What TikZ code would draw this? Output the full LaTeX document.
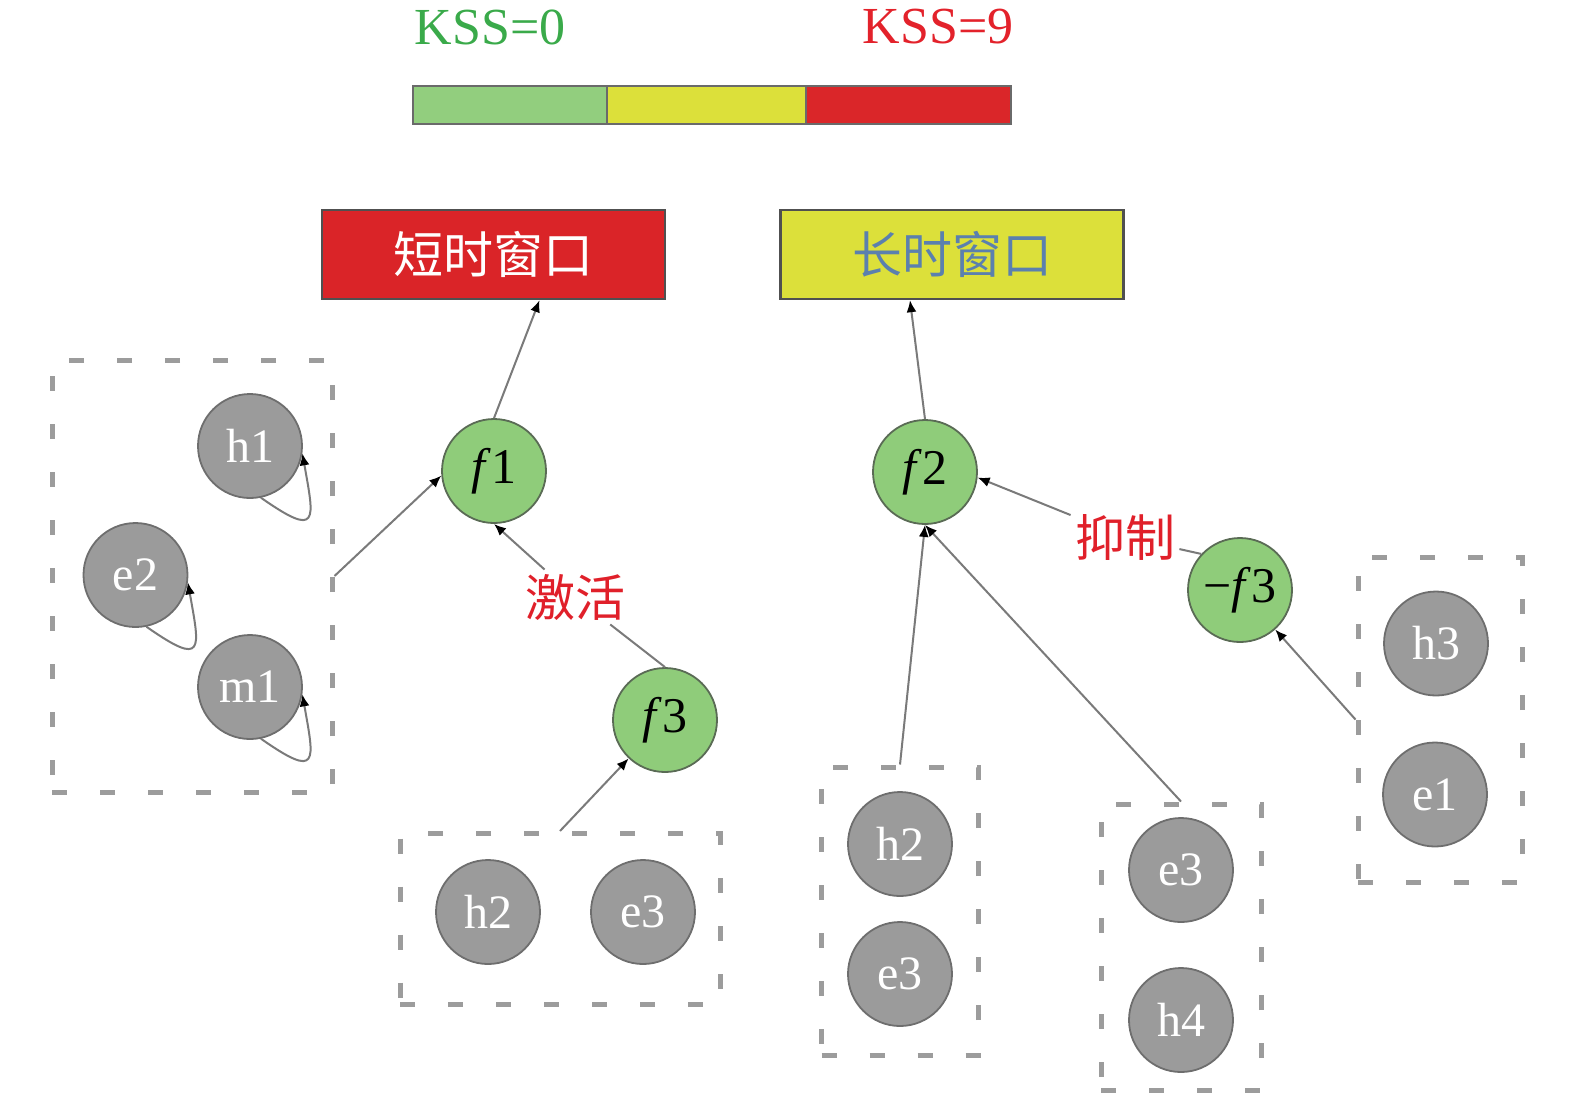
\documentclass[tikz,border=0pt]{standalone}
\usepackage{fontspec}
\setmainfont{Liberation Serif}
\newfontfamily\cjk{Noto Sans CJK SC}
\usetikzlibrary{arrows.meta}
\definecolor{bargreen}{HTML}{92CE7E}
\definecolor{baryellow}{HTML}{DCE03A}
\definecolor{barred}{HTML}{DA2629}
\definecolor{barborder}{HTML}{6A6A6A}
\definecolor{kssgreen}{HTML}{3AAA4A}
\definecolor{kssred}{HTML}{E3222B}
\definecolor{boxred}{HTML}{DA2428}
\definecolor{boxyellow}{HTML}{DCE03A}
\definecolor{boxborder}{HTML}{505050}
\definecolor{bluetext}{HTML}{5B80AE}
\definecolor{nodegreen}{HTML}{8FCC7A}
\definecolor{gborder}{HTML}{5A6B55}
\definecolor{nodegray}{HTML}{9B9B9B}
\definecolor{hborder}{HTML}{6E6E6E}
\definecolor{dashgray}{HTML}{9C9C9C}
\definecolor{linegray}{HTML}{7A7A7A}
\definecolor{labelred}{HTML}{E0202A}
\begin{document}
\begin{tikzpicture}[x=0.5pt,y=-0.5pt,
  gnode/.style={circle,minimum size=52pt,inner sep=0pt,fill=nodegreen,draw=gborder,line width=0.9pt,font=\fontsize{25}{25}\selectfont},
  hnode/.style={circle,minimum size=52pt,inner sep=0pt,fill=nodegray,draw=hborder,line width=0.9pt,text=white,font=\fontsize{24}{24}\selectfont},
  group/.style={draw=dashgray,line width=2.5pt,dash pattern=on 7.5pt off 16.5pt,inner sep=0pt},
  conn/.style={draw=linegray,line width=1pt},
  arr/.style={conn,-{Latex[length=6pt,width=5pt,color=black]}},
  lbl/.style={text=labelred,font=\cjk\fontsize{25}{25}\selectfont,inner sep=2pt},
  winbox/.style={draw=boxborder,line width=1.2pt,minimum width=171.5pt,minimum height=44.5pt,font=\cjk\fontsize{25}{25}\selectfont},
]
\path[use as bounding box] (0,0) rectangle (1575,1094);

% colour bar
\draw[barborder,line width=1pt,fill=bargreen] (413,86) rectangle (607,124);
\draw[barborder,line width=1pt,fill=baryellow] (607,86) rectangle (806,124);
\draw[barborder,line width=1pt,fill=barred] (806,86) rectangle (1011,124);
\node[text=kssgreen,font=\fontsize{26}{26}\selectfont] (kss0) at (490,27) {KSS=0};
\node[text=kssred,font=\fontsize{26}{26}\selectfont] (kss9) at (938,27) {KSS=9};

% windows
\node[winbox,fill=boxred,text=white] (sw) at (493.5,254.5) {短时窗口};
\node[winbox,fill=boxyellow,text=bluetext] (lw) at (952,254.5) {长时窗口};

% green nodes
\node[gnode] (f1) at (494,471) {\textit{f}1};
\node[gnode] (f2) at (925,472) {\textit{f}2};
\node[gnode] (f3) at (665,720) {\textit{f}3};
\node[gnode] (nf3) at (1240,590) {−\textit{f}3};

% group 1
\node[group,minimum width=140pt,minimum height=216pt] (b1) at (192,576) {};
\node[hnode] (h1) at (250,446) {h1};
\node[hnode] (e2) at (135.5,575) {e2};
\node[hnode] (m1) at (250,687) {m1};

% group 2
\node[group,minimum width=160pt,minimum height=85.5pt] (b2) at (560,919) {};
\node[hnode] (h2a) at (488,912) {h2};
\node[hnode] (e3a) at (643,912) {e3};

% group 3
\node[group,minimum width=78.5pt,minimum height=144pt] (b3) at (900,911) {};
\node[hnode] (h2b) at (900,844) {h2};
\node[hnode] (e3b) at (900,974) {e3};

% group 4
\node[group,minimum width=80pt,minimum height=143pt] (b4) at (1181,947) {};
\node[hnode] (e3c) at (1181,870) {e3};
\node[hnode] (h4) at (1181,1020) {h4};

% group 5
\node[group,minimum width=82pt,minimum height=162.5pt] (b5) at (1440,719.5) {};
\node[hnode] (h3) at (1436,643.5) {h3};
\node[hnode] (e1) at (1435,794.5) {e1};

% labels
\node[lbl] (jh) at (575,597) {激活};
\node[lbl] (yz) at (1125,537) {抑制};

% connectors
\draw[arr] (f1.north) -- ([xshift=23pt]sw.south);
\draw[arr] (f2.north) -- ([xshift=-21pt]lw.south);
\draw[arr] (b1.east) -- (f1.185);
\draw[conn] (f3.north) -- (jh);
\draw[arr] (jh) -- (f1.south);
\draw[arr] (b2.north) -- (f3);
\draw[arr] (b3.north) -- (f2.south);
\draw[arr] (b4.north) -- (f2.south);
\draw[conn] (nf3.137) -- (yz);
\draw[arr] (yz) -- (f2.-6);
\draw[arr] (b5.west) -- (nf3);

% self loops
\draw[arr] (h1.-78) .. controls +(-35:36pt) and +(-80:34pt) .. (h1.-8);
\draw[arr] (e2.-78) .. controls +(-35:36pt) and +(-80:34pt) .. (e2.-8);
\draw[arr] (m1.-78) .. controls +(-35:36pt) and +(-80:34pt) .. (m1.-8);
\end{tikzpicture}
\end{document}
